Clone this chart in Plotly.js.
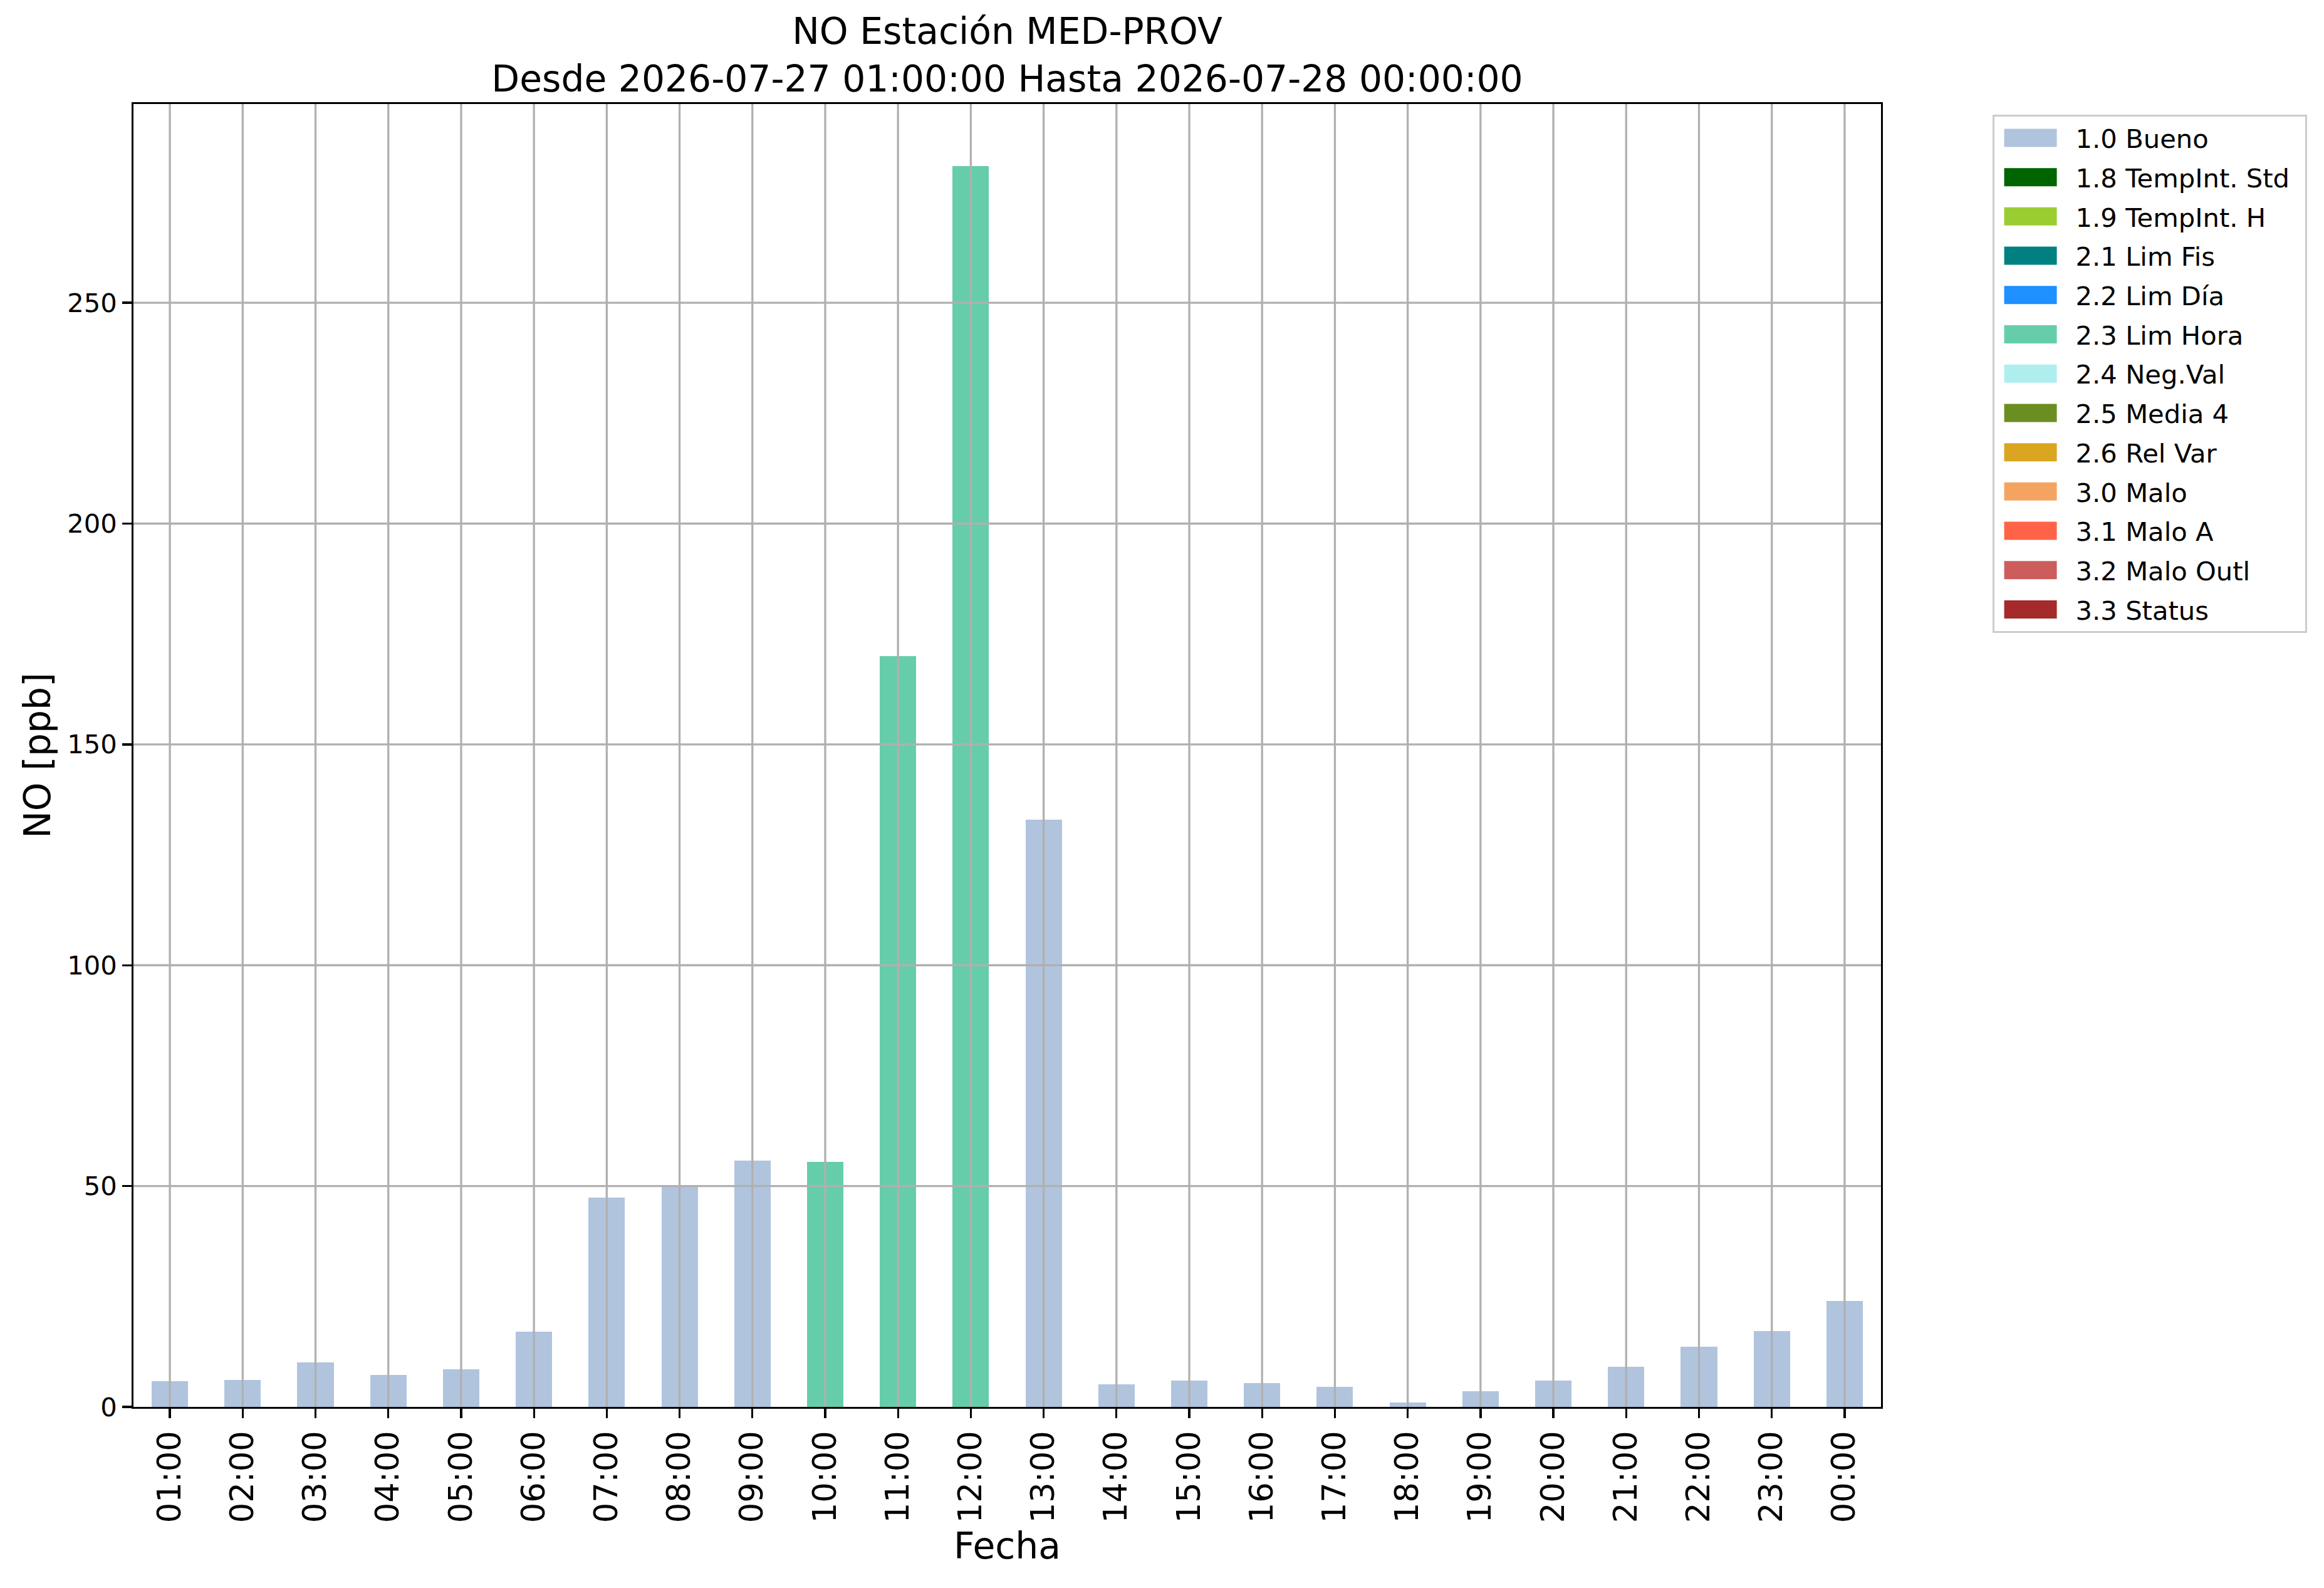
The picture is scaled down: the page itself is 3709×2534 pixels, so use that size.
<!DOCTYPE html>
<html>
<head>
<meta charset="utf-8">
<script src="https://cdn.plot.ly/plotly-3.0.1.min.js"></script>
<style>
html,body{margin:0;padding:0;background:#fff;}
#chart{width:3709px;height:2534px;}
</style>
</head>
<body>
<div id="chart"></div>
<script>
// ---- data ----
const hours = ['01:00','02:00','03:00','04:00','05:00','06:00','07:00','08:00','09:00','10:00','11:00','12:00',
               '13:00','14:00','15:00','16:00','17:00','18:00','19:00','20:00','21:00','22:00','23:00','00:00'];
const bueno   = [5.8, 6.1, 10.1, 7.3, 8.5, 17.0, 47.4, 49.8, 55.7, null, null, null,
                 132.9, 5.1, 6.0, 5.4, 4.5, 1.0, 3.6, 5.9, 9.1, 13.6, 17.2, 24.0];
const limHora = [null, null, null, null, null, null, null, null, null, 55.5, 170.0, 281.0,
                 null, null, null, null, null, null, null, null, null, null, null, null];
const seriesNames  = ['1.0 Bueno','1.8 TempInt. Std','1.9 TempInt. H','2.1 Lim Fis','2.2 Lim Día','2.3 Lim Hora',
                      '2.4 Neg.Val','2.5 Media 4','2.6 Rel Var','3.0 Malo','3.1 Malo A','3.2 Malo Outl','3.3 Status'];
const seriesColors = ['#B0C4DE','#006400','#9ACD32','#008080','#1E90FF','#66CDAA',
                      '#AFEEEE','#6B8E23','#DAA520','#F4A460','#FF6347','#CD5C5C','#A52A2A'];
const seriesValues = {'1.0 Bueno': bueno, '2.3 Lim Hora': limHora};
const yTicks = [0, 50, 100, 150, 200, 250];
const titleText = 'NO Estación MED-PROV<br>Desde 2026-07-27 01:00:00 Hasta 2026-07-28 00:00:00';

// ---- styling ----
const FONT = 'DejaVu Sans';
const LW = 3.3;

const empty = hours.map(() => null);
const data = seriesNames.map((name, i) => ({
  type: 'bar',
  name: name,
  x: hours,
  y: seriesValues[name] || empty,
  width: 0.5,
  marker: {color: seriesColors[i], line: {width: 0}},
  legendgroup: 'g' + i,
  hoverinfo: 'skip'
}));

const gridColor = '#b0b0b0';
const shapes = [];
hours.forEach(h => shapes.push({
  type: 'line', layer: 'above', xref: 'x', yref: 'paper', x0: h, x1: h, y0: 0, y1: 1,
  line: {color: gridColor, width: LW}
}));
yTicks.filter(v => v > 0).forEach(v => shapes.push({
  type: 'line', layer: 'above', xref: 'paper', yref: 'y', x0: 0, x1: 1, y0: v, y1: v,
  line: {color: gridColor, width: LW}
}));

const layout = {
  width: 3709, height: 2534,
  paper_bgcolor: '#ffffff', plot_bgcolor: '#ffffff',
  margin: {l: 213, r: 707, t: 166, b: 289, pad: 0},
  font: {family: FONT, color: '#000000'},
  barmode: 'stack',
  bargap: 0,
  title: {
    text: titleText,
    font: {family: FONT, size: 58.3, color: '#000000'},
    x: 0.5, xref: 'paper', xanchor: 'center',
    y: 1 - 70 / 2534, yref: 'container', yanchor: 'top'
  },
  xaxis: {
    type: 'category',
    categoryorder: 'array', categoryarray: hours,
    range: [-0.5, hours.length - 0.5],
    showgrid: false, zeroline: false,
    showline: true, mirror: true, linecolor: '#000000', linewidth: LW,
    ticks: 'outside', ticklen: 14.6, tickwidth: LW, tickcolor: '#000000',
    tickangle: -90,
    tickfont: {family: FONT, size: 51, color: '#000000'},
    title: {text: 'Fecha', font: {family: FONT, size: 58.3, color: '#000000'}, standoff: 18},
    automargin: false
  },
  yaxis: {
    range: [0, 295],
    tickvals: yTicks,
    ticktext: yTicks.map(String),
    showgrid: false, zeroline: false,
    showline: true, mirror: true, linecolor: '#000000', linewidth: LW,
    ticks: 'outside', ticklen: 14.6, tickwidth: LW, tickcolor: '#000000',
    tickfont: {family: FONT, size: 41.7, color: '#000000'},
    title: {text: 'NO [ppb]', font: {family: FONT, size: 58.3, color: '#000000'}, standoff: 8},
    automargin: false
  },
  shapes: shapes,
  showlegend: true,
  legend: {
    x: 1.0638, y: 0.9918, xanchor: 'left', yanchor: 'top',
    xref: 'paper', yref: 'paper',
    bgcolor: '#ffffff', bordercolor: '#cccccc', borderwidth: LW,
    font: {family: FONT, size: 41.7, color: '#000000'},
    traceorder: 'grouped', tracegroupgap: 5.5,
    itemwidth: 138,
    itemclick: false, itemdoubleclick: false
  }
};

const gd = document.getElementById('chart');

function fixLegend() {
  const leg = gd.querySelector('g.legend');
  if (!leg) return;
  const bgEl = leg.querySelector('rect.bg');
  const bg = bgEl.getBoundingClientRect();
  leg.querySelectorAll('g.traces').forEach(tr => {
    const p = tr.querySelector('.legendpoints path');
    if (p) {
      const b = p.getBoundingClientRect();
      const cx = (b.left + b.right) / 2;
      const target = bg.left + 17 + 42;
      const dx = target - cx;
      p.setAttribute('d', 'M' + (dx - 42) + ',14.5H' + (dx + 42) + 'V-14.5H' + (dx - 42) + 'Z');
    }
    const t = tr.querySelector('text.legendtext');
    if (t) {
      const tb = t.getBoundingClientRect();
      const curX = parseFloat(t.getAttribute('x')) || 0;
      t.setAttribute('x', curX + (bg.left + 131 - tb.left));
    }
  });
}

Plotly.newPlot(gd, data, layout, {staticPlot: true, displayModeBar: false}).then(fixLegend);
</script>
</body>
</html>
